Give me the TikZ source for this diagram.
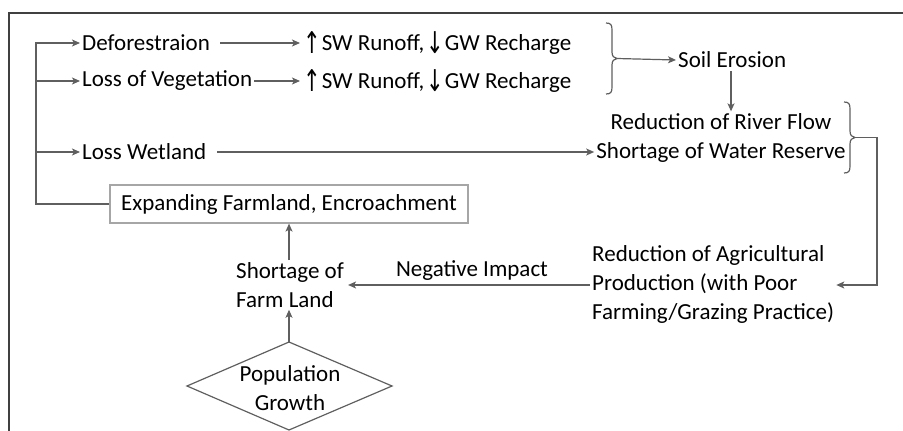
\documentclass[tikz,border=0pt]{standalone}
\usepackage{fontspec}
\setmainfont{Carlito}
\newfontfamily\arrowfont{DejaVu Sans}
\usetikzlibrary{arrows.meta}
\definecolor{lgray}{HTML}{5F5F5F}
\definecolor{frame}{HTML}{404040}
\definecolor{boxgray}{HTML}{A6A6A6}
\newcommand{\upa}{\raisebox{-3.5pt}{\scalebox{1.05}[1.5]{\arrowfont\fontsize{20}{20}\selectfont ↑}}\kern1pt}
\newcommand{\dna}{\raisebox{-3.5pt}{\scalebox{1.05}[1.5]{\arrowfont\fontsize{20}{20}\selectfont ↓}}\kern1pt}
\begin{document}
\begin{tikzpicture}[x=1pt,y=-1pt,
  font=\fontsize{23}{29}\selectfont,
  ln/.style={draw=lgray,line width=1.2pt},
  arr/.style={ln,-{Stealth[length=8pt,width=7pt,inset=2pt]}},
  lbl/.style={inner sep=2pt,text=black}]
\useasboundingbox (0,0) rectangle (903,431);
\draw[draw=frame,line width=1.3pt] (9,433) -- (9,13) -- (906,13);

% text nodes
\node[lbl,anchor=west] (def) at (80,43) {Deforestraion};
\node[lbl,anchor=west] (sw1) at (301,43) {\upa SW Runoff,\kern2pt\dna GW Recharge};
\node[lbl,anchor=west] (veg) at (80,81) {Loss of Vegetation};
\node[lbl,anchor=west] (sw2) at (301,81) {\upa SW Runoff,\kern2pt\dna GW Recharge};
\node[lbl,anchor=west] (wet) at (80,152) {Loss Wetland};
\node[lbl,anchor=west] (soil) at (676,60) {Soil Erosion};
\node[lbl,align=center] (river) at (721,138) {Reduction of River Flow\\Shortage of Water Reserve};
\node[lbl,align=left,anchor=west] (agr) at (590,284) {Reduction of Agricultural\\Production (with Poor\\Farming/Grazing Practice)};
\node[lbl,align=left,anchor=west] (farm) at (234,285) {Shortage of\\Farm Land};
\node[lbl,draw=boxgray,line width=1.2pt,minimum width=358pt,minimum height=38pt] (box) at (289,204) {Expanding Farmland, Encroachment};
\node[lbl] (neg) at (472,271) {Negative Impact};

% diamond
\coordinate (dt) at (289,342);
\draw[ln] (dt) -- (392,386) -- (289,430) -- (187,386) -- cycle;
\node[lbl,align=center] (pop) at (290,388) {Population\\Growth};

% trunk
\coordinate (t1) at (36,43);
\coordinate (t2) at (36,81);
\coordinate (t3) at (36,152);
\draw[arr] (box.west) -| (t1) -- (def.west);
\draw[arr] (t2) -- (veg.west);
\draw[arr] (t3) -- (wet.west);

\draw[arr,shorten <=8pt,shorten >=1pt] (def.east) -- (sw1.west);
\draw[arr,shorten >=1pt] (veg.east) -- (sw2.west);
\draw[arr,shorten <=9pt] (wet.east) -- (wet.east -| river.west);

% brace 1
\coordinate (b1m) at (617,58.5);
\draw[ln] (606,23) .. controls (611,23) and (612,25) .. (612,30) -- (612,52)
  .. controls (612,56) and (614,58.5) .. (b1m)
  .. controls (614,58.5) and (612,61) .. (612,65) -- (612,87)
  .. controls (612,92) and (611,94) .. (606,94);
\draw[arr] (b1m) -- (soil.west);
\draw[arr] (soil.south -| 731,0) ++(0,1) coordinate (sd) -- (sd |- river.north);

% brace 2
\coordinate (b2m) at (855,137.5);
\coordinate (rc) at (877,137.5);
\draw[ln] (844,102) .. controls (849,102) and (850,104) .. (850,109) -- (850,131)
  .. controls (850,135) and (852,137.5) .. (b2m)
  .. controls (852,137.5) and (850,140) .. (850,144) -- (850,166)
  .. controls (850,171) and (849,173) .. (844,173);
\draw[arr] (b2m) -- (rc) |- (agr.east |- 0,285);

\draw[arr,shorten >=2pt] (agr.west |- 0,285) -- (farm.east |- 0,285);
\draw[arr] (farm.north -| 289,0) -- (box.south -| 289,0);
\draw[arr] (dt) -- (farm.south -| 289,0);
\end{tikzpicture}
\end{document}
